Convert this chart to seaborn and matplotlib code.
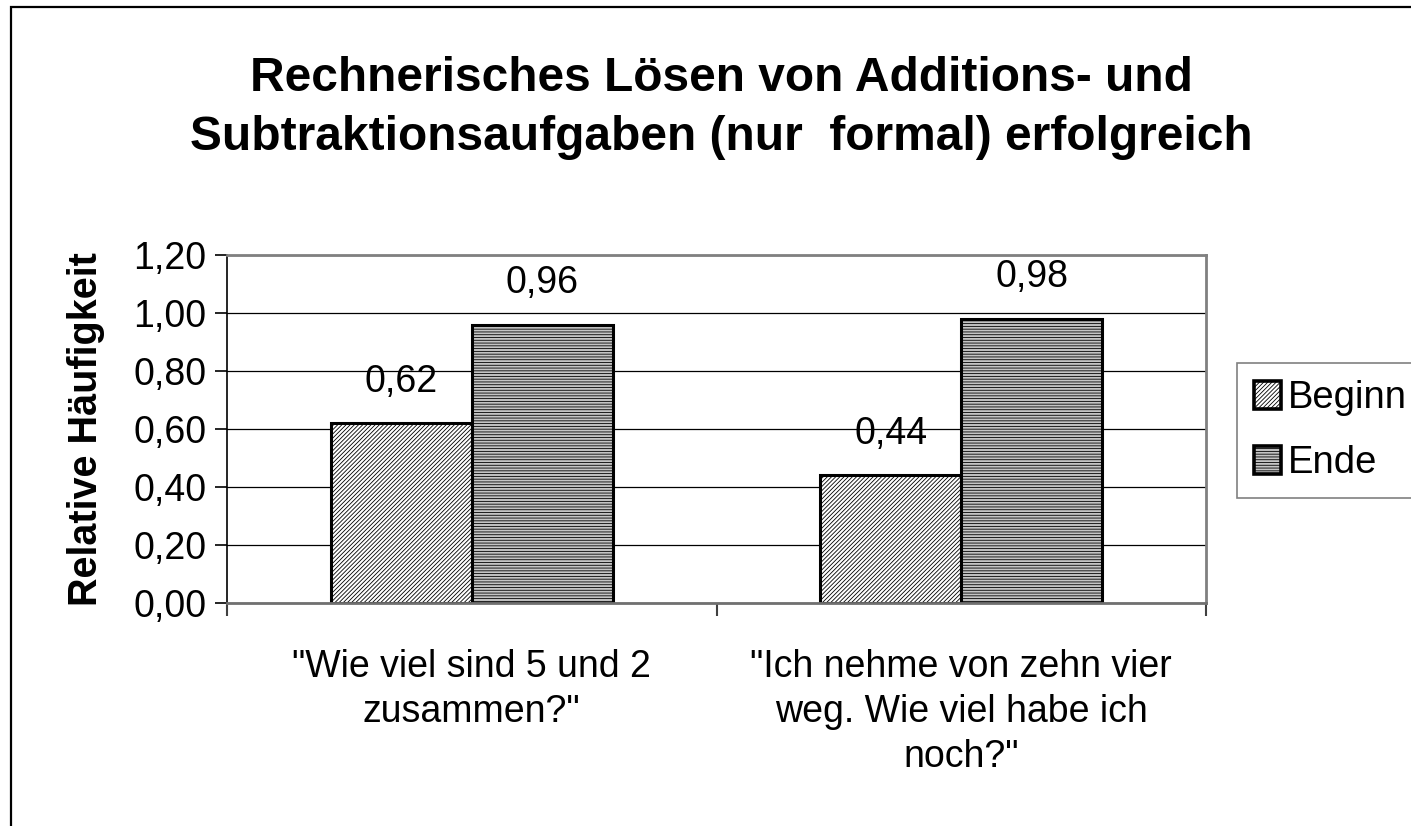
import matplotlib
matplotlib.use("Agg")
import matplotlib.pyplot as plt
from matplotlib.patches import Rectangle
import seaborn as sns
import pandas as pd

# ---- data ----
categories = ['"Wie viel sind 5 und 2\nzusammen?"',
              '"Ich nehme von zehn vier\nweg. Wie viel habe ich\nnoch?"']
series_names = ["Beginn", "Ende"]
beginn_values = [0.62, 0.44]
ende_values = [0.96, 0.98]
y_ticks = [0.0, 0.2, 0.4, 0.6, 0.8, 1.0, 1.2]
y_tick_labels = ["0,00", "0,20", "0,40", "0,60", "0,80", "1,00", "1,20"]
title = "Rechnerisches Lösen von Additions- und\nSubtraktionsaufgaben (nur  formal) erfolgreich"
y_label = "Relative Häufigkeit"

df = pd.DataFrame({
    "Kategorie": categories * 2,
    "Zeitpunkt": [series_names[0]] * 2 + [series_names[1]] * 2,
    "Wert": beginn_values + ende_values,
})

sns.set_theme(style="white")
plt.rcParams["font.family"] = ["Liberation Sans", "DejaVu Sans"]
plt.rcParams["text.color"] = "black"
plt.rcParams["axes.labelcolor"] = "black"
plt.rcParams["xtick.color"] = "black"
plt.rcParams["ytick.color"] = "black"
plt.rcParams["hatch.color"] = "black"
plt.rcParams["hatch.linewidth"] = 0.6

W, H = 1411, 826
fig = plt.figure(figsize=(W / 100, H / 100), dpi=100)
fig.patch.set_facecolor("white")
ax = fig.add_axes([227 / W, 1 - 603 / H, (1206 - 227) / W, (603 - 255) / H])

sns.barplot(data=df, x="Kategorie", y="Wert", hue="Zeitpunkt",
            order=categories, hue_order=series_names,
            width=0.577, dodge=True, ax=ax, legend=False,
            edgecolor="black", linewidth=2.2, saturation=1)

hatches = ["/" * 8, "-" * 6]
faces = ["white", "#c4c4c4"]
for cont, h, fc in zip(ax.containers, hatches, faces):
    for p in cont:
        p.set_hatch(h)
        p.set_facecolor(fc)
        p.set_edgecolor("black")
        p.set_linewidth(2.2)

# data labels
for cont in ax.containers:
    for p in cont:
        v = p.get_height()
        ax.annotate(f"{v:.2f}".replace(".", ","),
                    xy=(p.get_x() + p.get_width() / 2, v),
                    xytext=(0, 30), textcoords="offset points",
                    ha="center", va="center", fontsize=27, color="black")

ax.set_xlim(-0.5, 1.5)
ax.set_ylim(0, 1.2)
ax.set_yticks(y_ticks)
ax.set_yticklabels(y_tick_labels, fontsize=27)
ax.tick_params(axis="y", which="major", direction="out", length=9, width=1.2,
               color="black", pad=6, left=True)

# x: boundary ticks (major) and labels (minor)
ax.set_xticks([-0.5, 0.5, 1.5])
ax.set_xticklabels(["", "", ""])
ax.set_xticks([0, 1], minor=True)
ax.set_xticklabels(categories, minor=True, fontsize=27, linespacing=1.32)
ax.tick_params(axis="x", which="major", direction="out", length=9, width=1.5,
               color="#404040", bottom=True)
ax.tick_params(axis="x", which="minor", length=0, pad=33)
ax.set_xlabel("")

ax.set_ylabel(y_label, fontsize=28.5, fontweight="bold")
ax.yaxis.set_label_coords(-0.125, 0.5)

ax.yaxis.grid(True, color="black", linewidth=0.9)
ax.set_axisbelow(True)
for s in ["top", "right"]:
    ax.spines[s].set_color("#808080")
    ax.spines[s].set_linewidth(2)
ax.spines["bottom"].set_color("#707070")
ax.spines["bottom"].set_linewidth(2)
ax.spines["left"].set_color("black")
ax.spines["left"].set_linewidth(1.2)

# legend
handles = [cont.patches[0] for cont in ax.containers]
leg = fig.legend(handles, series_names, loc="upper left",
                 bbox_to_anchor=(1237 / W, 1 - 363 / H),
                 fontsize=27.5, frameon=True, fancybox=False, shadow=False,
                 handlelength=0.7, handleheight=0.75, handletextpad=0.18,
                 labelspacing=0.75, borderpad=0.45, borderaxespad=0)
leg.get_frame().set_edgecolor("#606060")
leg.get_frame().set_linewidth(1.2)
for hnd in leg.legend_handles:
    hnd.set_linewidth(2.6)

# title
fig.text(721 / W, 1 - 108 / H, title, ha="center", va="center",
         fontsize=34.5, fontweight="bold", linespacing=1.38)

# outer chart border (clipped by canvas at right/bottom)
fig.add_artist(Rectangle((11 / W, -0.2), 1.2, 1.2 - 7 / H,
                         transform=fig.transFigure, fill=False,
                         edgecolor="black", linewidth=1.6, clip_on=False))

fig.savefig("out.png", dpi=100)
